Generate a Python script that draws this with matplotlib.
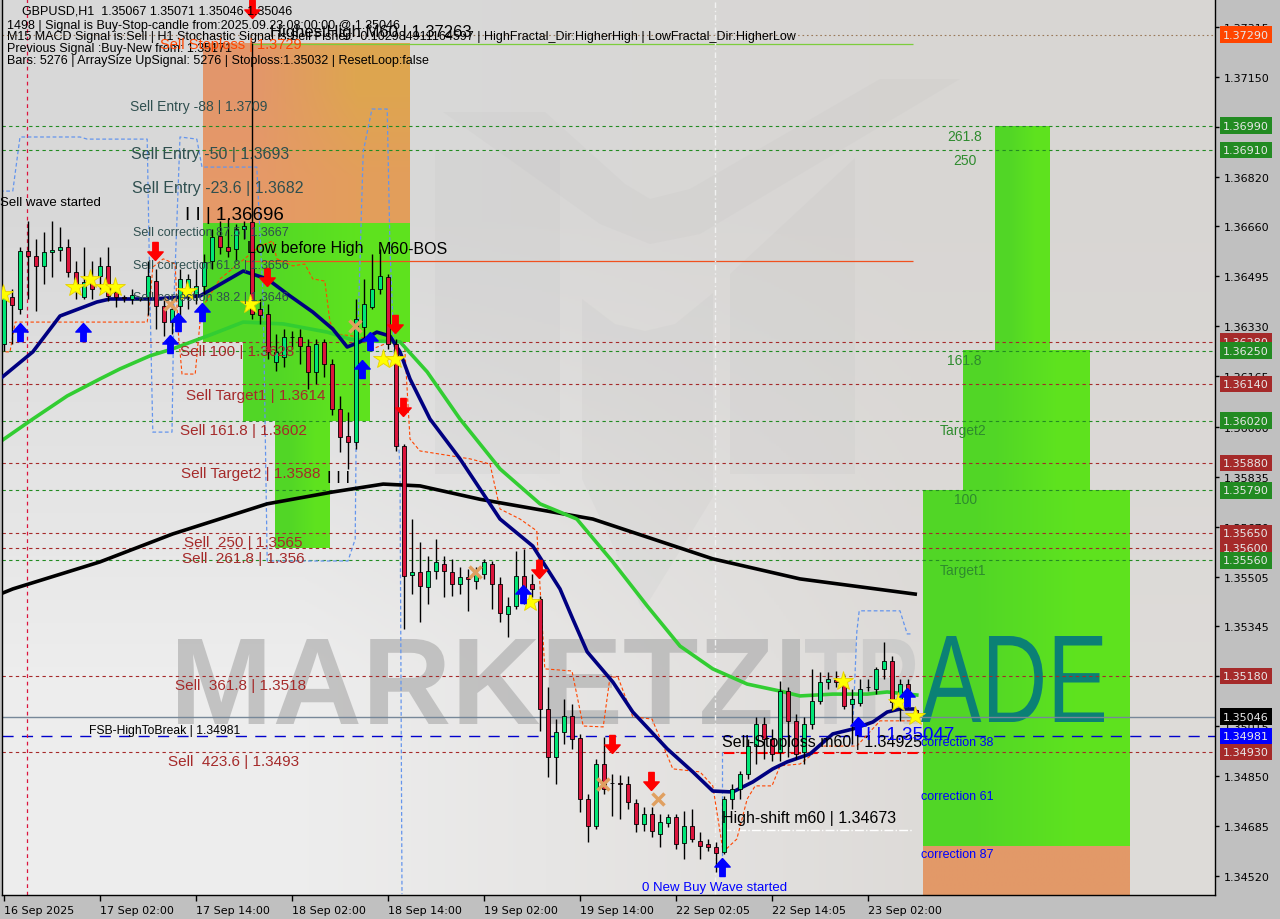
import numpy as np
import matplotlib.pyplot as plt
from matplotlib.patches import PathPatch, Polygon
from matplotlib.textpath import TextPath
from matplotlib.font_manager import FontProperties
from matplotlib.transforms import Affine2D, blended_transform_factory

# --- fonts ---
plt.rcParams['font.family'] = ['Liberation Sans', 'DejaVu Sans']
plt.rcParams['axes.unicode_minus'] = False

# --- GBPUSD H1 candles (index 0 = first bar on the left) ---
opens = [1.36272, 1.36427, 1.36387, 1.36578, 1.36561, 1.36529, 1.36575, 1.36581, 1.36591, 1.36509,
         1.36427, 1.36476, 1.36496, 1.36529, 1.36443, 1.36427, 1.36420, 1.36420, 1.36427, 1.36479,
         1.36397, 1.36344, 1.36397, 1.36436, 1.36436, 1.36463, 1.36545, 1.36627, 1.36591, 1.36585,
         1.36650, 1.36673, 1.36387, 1.36371, 1.36213, 1.36229, 1.36295, 1.36295, 1.36265, 1.36180,
         1.36279, 1.36206, 1.36058, 1.35969, 1.35950, 1.36328, 1.36394, 1.36453, 1.36492, 1.36272,
         1.35936, 1.35512, 1.35522, 1.35472, 1.35525, 1.35548, 1.35522, 1.35482, 1.35505, 1.35492,
         1.35515, 1.35548, 1.35482, 1.35384, 1.35410, 1.35509, 1.35482, 1.35433, 1.35071, 1.34913,
         1.34995, 1.35048, 1.34976, 1.34775, 1.34686, 1.34890, 1.34828, 1.34828, 1.34824, 1.34762,
         1.34693, 1.34726, 1.34660, 1.34696, 1.34716, 1.34630, 1.34686, 1.34637, 1.34627, 1.34617,
         1.34601, 1.34775, 1.34808, 1.34857, 1.34949, 1.35022, 1.34972, 1.34930, 1.35130, 1.35032,
         1.34930, 1.35022, 1.35097, 1.35160, 1.35166, 1.35163, 1.35087, 1.35091, 1.35143, 1.35137,
         1.35203, 1.35229, 1.35094, 1.35153, 1.35067]
highs = [1.36446, 1.36453, 1.36591, 1.36677, 1.36617, 1.36640, 1.36677, 1.36657, 1.36617, 1.36545,
         1.36591, 1.36545, 1.36558, 1.36591, 1.36460, 1.36433, 1.36453, 1.36427, 1.36545, 1.36519,
         1.36427, 1.36420, 1.36519, 1.36502, 1.36519, 1.36568, 1.36650, 1.36677, 1.36683, 1.36667,
         1.36677, 1.37262, 1.36420, 1.36404, 1.36305, 1.36321, 1.36315, 1.36321, 1.36288, 1.36288,
         1.36288, 1.36223, 1.36101, 1.36048, 1.36420, 1.36486, 1.36568, 1.36585, 1.36502, 1.36288,
         1.35943, 1.35696, 1.35621, 1.35575, 1.35630, 1.35575, 1.35565, 1.35538, 1.35532, 1.35538,
         1.35565, 1.35558, 1.35505, 1.35440, 1.35591, 1.35598, 1.35515, 1.35443, 1.35143, 1.35038,
         1.35104, 1.35087, 1.34989, 1.34791, 1.34907, 1.34979, 1.34857, 1.34854, 1.34851, 1.34775,
         1.34749, 1.34749, 1.34726, 1.34726, 1.34726, 1.34736, 1.34742, 1.34666, 1.34643, 1.34634,
         1.34785, 1.34824, 1.34867, 1.34972, 1.35045, 1.35045, 1.35005, 1.35163, 1.35143, 1.35055,
         1.35045, 1.35203, 1.35193, 1.35193, 1.35196, 1.35186, 1.35137, 1.35170, 1.35170, 1.35209,
         1.35292, 1.35245, 1.35170, 1.35170, 1.35071]
lows = [1.36249, 1.36272, 1.36371, 1.36420, 1.36381, 1.36469, 1.36492, 1.36545, 1.36492, 1.36420,
        1.36420, 1.36420, 1.36453, 1.36413, 1.36394, 1.36410, 1.36404, 1.36413, 1.36367, 1.36321,
        1.36298, 1.36305, 1.36321, 1.36387, 1.36404, 1.36436, 1.36519, 1.36568, 1.36558, 1.36545,
        1.36617, 1.36354, 1.36338, 1.36223, 1.36183, 1.36196, 1.36256, 1.36206, 1.36124, 1.36140,
        1.36163, 1.36038, 1.35917, 1.35861, 1.35927, 1.36288, 1.36387, 1.36436, 1.36256, 1.35920,
        1.35334, 1.35449, 1.35357, 1.35417, 1.35499, 1.35440, 1.35443, 1.35449, 1.35394, 1.35466,
        1.35499, 1.35400, 1.35357, 1.35308, 1.35400, 1.35417, 1.35440, 1.34999, 1.34847, 1.34824,
        1.34956, 1.34940, 1.34732, 1.34634, 1.34676, 1.34791, 1.34719, 1.34709, 1.34742, 1.34666,
        1.34670, 1.34650, 1.34617, 1.34683, 1.34611, 1.34578, 1.34634, 1.34578, 1.34604, 1.34535,
        1.34594, 1.34742, 1.34775, 1.34841, 1.34890, 1.34907, 1.34900, 1.34900, 1.34913, 1.34907,
        1.34890, 1.35005, 1.35087, 1.35137, 1.35143, 1.35071, 1.34956, 1.35081, 1.35130, 1.35120,
        1.35170, 1.35065, 1.35032, 1.35078, 1.35046]
closes = [1.36427, 1.36400, 1.36578, 1.36561, 1.36529, 1.36575, 1.36581, 1.36591, 1.36509, 1.36453,
          1.36476, 1.36453, 1.36529, 1.36430, 1.36427, 1.36423, 1.36433, 1.36419, 1.36496, 1.36397,
          1.36344, 1.36387, 1.36486, 1.36486, 1.36463, 1.36542, 1.36624, 1.36591, 1.36578, 1.36650,
          1.36660, 1.36371, 1.36367, 1.36246, 1.36246, 1.36295, 1.36294, 1.36265, 1.36180, 1.36272,
          1.36206, 1.36058, 1.35966, 1.35950, 1.36354, 1.36404, 1.36453, 1.36496, 1.36272, 1.35936,
          1.35509, 1.35522, 1.35476, 1.35525, 1.35555, 1.35525, 1.35482, 1.35505, 1.35499, 1.35515,
          1.35555, 1.35482, 1.35387, 1.35410, 1.35509, 1.35433, 1.35466, 1.35071, 1.34913, 1.34995,
          1.35048, 1.34972, 1.34775, 1.34686, 1.34890, 1.34808, 1.34827, 1.34824, 1.34765, 1.34693,
          1.34726, 1.34670, 1.34699, 1.34716, 1.34627, 1.34686, 1.34643, 1.34620, 1.34617, 1.34597,
          1.34775, 1.34808, 1.34857, 1.34949, 1.35022, 1.34972, 1.34923, 1.35130, 1.35032, 1.34923,
          1.35022, 1.35097, 1.35160, 1.35170, 1.35160, 1.35081, 1.35104, 1.35137, 1.35142, 1.35203,
          1.35229, 1.35094, 1.35153, 1.35114, 1.35046]

# date labels every 12 bars
date_ticks = [0, 12, 24, 36, 48, 60, 72, 84, 96, 108]
date_labels = ['16 Sep 2025', '17 Sep 02:00', '17 Sep 14:00', '18 Sep 02:00', '18 Sep 14:00',
               '19 Sep 02:00', '19 Sep 14:00', '22 Sep 02:05', '22 Sep 14:05', '23 Sep 02:00']
price_ticks = [1.37315, 1.37150, 1.36985, 1.36820, 1.36660, 1.36495, 1.36330, 1.36165, 1.36000,
               1.35835, 1.35670, 1.35505, 1.35345, 1.35180, 1.35015, 1.34850, 1.34685, 1.34520]

# --- moving averages (bar index, price) ---
ma_navy_x = [-0.5, 3.6, 7, 11.6, 13.25, 18.6, 24.5, 29.9, 32.9, 35.75, 38.6, 41.1, 42.9, 44.5, 46.6,
             48.25, 49.5, 50.75, 53.25, 57, 62, 66.1, 69.5, 71.1, 72.9, 76.1, 78.6, 82.9, 86.1, 88.6,
             91.1, 93.6, 96.1, 97.9, 100.75, 103.6, 106.1, 108.6, 110.4, 112, 113.6]
ma_navy_y = [1.36157, 1.36246, 1.36364, 1.36410, 1.36420, 1.36420, 1.36430, 1.36512, 1.36486, 1.36430,
             1.36377, 1.36321, 1.36262, 1.36279, 1.36311, 1.36298, 1.36246, 1.36157, 1.36025, 1.35894,
             1.35696, 1.35607, 1.35466, 1.35367, 1.35259, 1.35160, 1.35061, 1.34940, 1.34864, 1.34801,
             1.34798, 1.34831, 1.34874, 1.34897, 1.34923, 1.34989, 1.35005, 1.35028, 1.35061, 1.35071,
             1.35071]
ma_green_x = [-0.5, 3.6, 7.9, 12, 14.5, 18.25, 21.1, 26.1, 29.9, 34.9, 40.4, 43.25, 45.75, 49.5, 52.9,
              57, 62, 67, 71.6, 76.1, 80.4, 84.5, 88.6, 92.9, 97, 99.5, 103.6, 107.9, 110.4, 114.1]
ma_green_y = [1.35950, 1.36025, 1.36101, 1.36157, 1.36190, 1.36233, 1.36256, 1.36305, 1.36344, 1.36338,
              1.36311, 1.36288, 1.36282, 1.36279, 1.36180, 1.36025, 1.35861, 1.35746, 1.35696, 1.35555,
              1.35410, 1.35278, 1.35203, 1.35153, 1.35130, 1.35114, 1.35120, 1.35120, 1.35127, 1.35117]
ma_black_x = [-0.5, 1.1, 12, 21.1, 32.9, 41.1, 47.4, 52, 59.5, 73.6, 88.6, 99.5, 113.9]
ma_black_y = [1.35449, 1.35466, 1.35555, 1.35647, 1.35746, 1.35785, 1.35811, 1.35805, 1.35761,
              1.35696, 1.35565, 1.35499, 1.35449]

# --- trailing stop (thin orange dashed) ---
trail_x = [-0.5, 0.75, 1.4, 17.9, 18.25, 18.6, 19.9, 21.4, 21.75, 22.25, 23.9, 24.5, 24.9, 27, 32,
           33.6, 34.1, 36.1, 37.6, 38.6, 40.1, 40.75, 41.6, 43.6, 45.75, 46.1, 47.6, 49.5, 50.1,
           50.75, 52, 58.25, 60.75, 62, 64.5, 66.6, 67.6, 71, 72.4, 74.9, 75.75, 76.75, 78.6, 81,
           83.6, 87, 88.6, 89.9, 91.6, 92.9, 93.9, 96, 97, 99.5, 101.1, 101.6, 106.6, 109.5, 113.6]
trail_y = [1.36246, 1.36246, 1.36344, 1.36344, 1.36413, 1.36525, 1.36552, 1.36535, 1.36321, 1.36173,
           1.36173, 1.36344, 1.36397, 1.36486, 1.36594, 1.36611, 1.36552, 1.36529, 1.36535, 1.36486,
           1.36479, 1.36344, 1.36305, 1.36298, 1.36288, 1.36256, 1.36272, 1.36279, 1.36256, 1.35959,
           1.35920, 1.35894, 1.35877, 1.35729, 1.35696, 1.35657, 1.35203, 1.35196, 1.35015, 1.35012,
           1.35176, 1.35176, 1.35045, 1.35038, 1.34874, 1.34864, 1.34818, 1.34601, 1.34643, 1.34775,
           1.34818, 1.34818, 1.34884, 1.34890, 1.34923, 1.34949, 1.34949, 1.35032, 1.35032]

# --- envelope (thin blue dashed) ---
env1_x = [-0.5, 1.1, 2, 9.5, 10.4, 17.9, 18.25, 18.6, 21, 21.25, 22, 24.1, 24.75, 31.6, 32.4, 32.9,
          43, 43.9, 44.1, 44.9, 46, 47.9, 48.25, 48.9, 49.5, 49.75]
env1_y = [1.36775, 1.36775, 1.36953, 1.36953, 1.36946, 1.36946, 1.36420, 1.35982, 1.35982, 1.36420,
          1.36953, 1.36946, 1.36854, 1.36854, 1.36420, 1.35558, 1.35558, 1.35630, 1.36190, 1.36904,
          1.37045, 1.37045, 1.36585, 1.36157, 1.35861, 1.34462]
env2_x = [106, 106.6, 106.9, 112, 112.9, 113.6]
env2_y = [1.34949, 1.35324, 1.35394, 1.35394, 1.35318, 1.35318]
env3_x = [89.75, 89.75]
env3_y = [1.34930, 1.34522]

# --- signal markers ---
star_x = [-0.1, 8.9, 10.75, 12.6, 13.9, 22.9, 30.75, 47.4, 48.9, 65.75, 104.9, 111.75, 113.9]
star_y = [1.36436, 1.36460, 1.36486, 1.36460, 1.36460, 1.36446, 1.36404, 1.36223, 1.36223, 1.35423,
          1.35163, 1.35094, 1.35048]
buy_x = [2, 9.9, 20.75, 21.75, 24.75, 44.75, 45.75, 64.9, 89.75, 106.75, 112.9]
buy_y = [1.36311, 1.36311, 1.36272, 1.36344, 1.36377, 1.36190, 1.36282, 1.35449, 1.34551, 1.35015,
         1.35111]
sell_x = [31, 18.9, 32.9, 48.9, 49.9, 66.9, 76, 80.9]
sell_y = [1.37374, 1.36578, 1.36492, 1.36338, 1.36065, 1.35532, 1.34956, 1.34834]
cross_x = [20.75, 43.9, 58.9, 74.9, 81.75]
cross_y = [1.36404, 1.36331, 1.35522, 1.34824, 1.34775]

# --- zones (left bar, right bar, top price, bottom price) ---
zone_left = [24.9, 24.9, 29.9, 33.9, 114.9, 119.9, 123.9, 114.9]
zone_right = [50.75, 50.75, 45.75, 40.75, 140.75, 135.75, 130.75, 140.75]
zone_top = [1.37259, 1.3667, 1.3628, 1.3602, 1.3579, 1.3625, 1.3699, 1.3462]
zone_bottom = [1.3667, 1.3628, 1.3602, 1.3560, 1.3462, 1.3579, 1.3625, 1.34459]
zone_kind = ['entry', 'tp', 'tp', 'tp', 'tp', 'tp', 'tp', 'stop']

# --- horizontal levels ---
red_levels = [1.3628, 1.3614, 1.3588, 1.3565, 1.3560, 1.3518, 1.3493]
green_levels = [1.3699, 1.3691, 1.3625, 1.3602, 1.3579, 1.3556]
stop_level = 1.3729
bid_level = 1.35046
fsb_level = 1.34981
low_before_high = 1.36545
highest_high = 1.37259
sl_m60 = 1.34925
high_shift_m60 = 1.34673

# right-hand price boxes
box_prices = [1.37290, 1.36990, 1.36910, 1.36280, 1.36250, 1.36140, 1.36020, 1.35880, 1.35790,
              1.35650, 1.35600, 1.35560, 1.35180, 1.35046, 1.34981, 1.34930]
box_colors = ['#ff4500', '#228b22', '#228b22', '#a52a2a', '#228b22', '#a52a2a', '#228b22', '#a52a2a',
              '#228b22', '#a52a2a', '#a52a2a', '#228b22', '#a52a2a', '#000000', '#0000ff', '#a52a2a']

W, H = 1280, 920
AX_L, AX_R, AX_B = 2, 1215, 896   # pixel frame of the price pane

# faint background logo, in screen pixels (decoration only)
logo_shapes = [
    [(435, 153), (560, 153), (560, 475), (435, 475)],
    [(730, 275), (855, 159), (855, 475), (730, 475)],
    [(582, 300), (615, 325), (645, 332), (675, 325), (713, 294), (713, 498), (643, 612), (582, 480)],
    [(443, 113), (545, 113), (625, 185), (650, 200), (690, 190), (880, 80), (960, 80),
     (700, 235), (650, 245), (600, 225)],
]


def at(x, y):
    # pixel position -> axes fraction (used for text layout only)
    return (x - AX_L) / (AX_R - AX_L), 1 - y / AX_B


def stretched_word(ax, s, x0, x1, base, cap, bold, color, alpha, z):
    # watermark word squeezed into a pixel box (x0..x1, cap height above baseline)
    fp = FontProperties(family='Liberation Sans', weight='bold' if bold else 'normal')
    tp = TextPath((0, 0), s, size=100, prop=fp)
    bb = tp.get_extents()
    tr = (Affine2D().translate(-bb.x0, 0)
          .scale((x1 - x0) / bb.width, cap / bb.y1)
          .translate(x0, H - base))
    ax.add_patch(PathPatch(tp, transform=tr, facecolor=color, edgecolor='none',
                           alpha=alpha, zorder=z))


def draw_chart():
    fig = plt.figure(figsize=(W / 100, H / 100), dpi=100, facecolor='#c0c0c0')
    ax = fig.add_axes([AX_L / W, 1 - AX_B / H, (AX_R - AX_L) / W, AX_B / H])

    xmin, xmax = -0.25, 151.375
    ymin, ymax = 1.34459, 1.37407

    # --- background gradient ---
    grad = np.array([[[0.85, 0.85, 0.85], [0.85, 0.84, 0.83]],
                     [[0.93, 0.93, 0.93], [0.87, 0.86, 0.85]]])
    ax.imshow(grad, extent=[xmin, xmax, ymin, ymax], aspect='auto', origin='upper',
              interpolation='bilinear', zorder=0)

    # faint logo
    screen = Affine2D().scale(1, -1).translate(0, H)
    for pts in logo_shapes:
        ax.add_patch(Polygon(pts, closed=True, transform=screen, facecolor='#bdbdbd',
                             edgecolor='none', alpha=0.14, zorder=0.5))

    # --- zones (soft gradients like the terminal objects) ---
    for l, r, t, b, k in zip(zone_left, zone_right, zone_top, zone_bottom, zone_kind):
        if k == 'entry':
            g = np.array([[[0.89, 0.59, 0.42], [0.87, 0.65, 0.31]],
                          [[0.90, 0.60, 0.41], [0.89, 0.62, 0.36]]])
        elif k == 'stop':
            g = np.array([[[0.89, 0.60, 0.41], [0.89, 0.60, 0.41]],
                          [[0.89, 0.60, 0.41], [0.89, 0.60, 0.41]]])
        else:
            g = np.array([[[0.32, 0.84, 0.15], [0.37, 0.89, 0.12]],
                          [[0.32, 0.84, 0.15], [0.37, 0.89, 0.12]]])
        ax.imshow(g, extent=[l, r, b, t], aspect='auto', origin='upper',
                  interpolation='bilinear', zorder=1)

    # --- watermark ---
    stretched_word(ax, 'MARKETZI', 178, 800, 725, 85, True, '#b2b2b2', 0.72, 1.5)
    stretched_word(ax, 'TR', 805, 918, 725, 85, True, '#c6c6c6', 0.7, 1.5)
    stretched_word(ax, 'ADE', 921, 1104, 723, 86, False, '#0b8075', 1.0, 1.6)

    # --- level lines ---
    for p in red_levels:
        ax.axhline(p, color='#a52a2a', lw=0.8, dashes=(3, 3), zorder=2)
    for p in green_levels:
        ax.axhline(p, color='#228b22', lw=0.8, dashes=(3, 3), zorder=2)
    ax.axhline(stop_level, color='#9a7a5a', lw=0.8, dashes=(1.5, 2.5), zorder=2)
    ax.axhline(bid_level, color='#778899', lw=1, zorder=2)
    ax.axhline(fsb_level, color='#0000cc', lw=1, dashes=(8, 6), zorder=2)
    ax.hlines(low_before_high, 30.1, 113.6, color='#f0501e', lw=0.9, zorder=2)
    ax.hlines(highest_high, 30.9, 113.6, color='#7ccd3c', lw=0.9, zorder=2)
    ax.hlines(sl_m60, 90, 115.1, color='#ff0000', lw=1.5, linestyles=(0, (5, 3)), zorder=2)
    ax.hlines(high_shift_m60, 89.75, 113.6, color='white', lw=1, linestyles='-.', zorder=2)
    ax.axvline(2.875, color='#dc143c', lw=0.9, dashes=(3, 3), zorder=2)
    ax.axvline(88.9, color='#f2f2f2', lw=1, dashes=(4, 2, 1, 2), zorder=2)

    # --- indicator lines ---
    ax.plot(env1_x, env1_y, color='#6495ed', lw=0.9, dashes=(3, 2), zorder=2.2)
    ax.plot(env2_x, env2_y, color='#6495ed', lw=0.9, dashes=(3, 2), zorder=2.2)
    ax.plot(env3_x, env3_y, color='#6495ed', lw=0.9, dashes=(3, 2), zorder=2.2)
    ax.plot(trail_x, trail_y, color='#ff4500', lw=0.8, dashes=(3, 2), zorder=2.3)
    ax.plot(ma_black_x, ma_black_y, color='black', lw=2.6, zorder=2.5)
    ax.plot(ma_green_x, ma_green_y, color='#32cd32', lw=2.6, zorder=2.5)
    ax.plot(ma_navy_x, ma_navy_y, color='#000080', lw=2.6, zorder=2.6)

    # --- candles ---
    idx = np.arange(len(opens))
    o, h, l, c = (np.array(v) for v in (opens, highs, lows, closes))
    up = c >= o
    ax.vlines(idx, l, h, color='black', lw=1, zorder=3)
    body_lo = np.minimum(o, c)
    body_h = np.maximum(np.abs(c - o), 0.00002)
    ax.bar(idx, body_h, bottom=body_lo, width=0.62,
           color=np.where(up, '#00e676', '#dc143c'), edgecolor='black', lw=0.6, zorder=3.1)

    # --- markers ---
    up_arrow = [(0, 1), (-0.85, 0.05), (-0.3, 0.05), (-0.3, -1), (0.3, -1), (0.3, 0.05),
                (0.85, 0.05), (0, 1)]
    dn_arrow = [(x, -y) for x, y in up_arrow]
    ax.plot(star_x, star_y, ls='none', marker='*', ms=15, color='#ffff00', mec='#e8d000',
            mew=0.6, zorder=4)
    ax.plot(buy_x, buy_y, ls='none', marker=up_arrow, ms=13, color='#0000ff', mec='#0000ff',
            zorder=4)
    ax.plot(sell_x, sell_y, ls='none', marker=dn_arrow, ms=13, color='#ff0000', mec='#ff0000',
            zorder=4)
    ax.plot(cross_x, cross_y, ls='none', marker='x', ms=8, mew=2.5, color='#e0a060', zorder=4)

    # --- texts ---
    dark = '#2f4f4f'
    brown = '#a52a2a'
    tgreen = '#2e8b2e'
    labels = [
        ('GBPUSD,H1  1.35067 1.35071 1.35046 1.35046', 22, 12, 9, 'black'),
        ('1498 | Signal is Buy-Stop-candle from:2025.09.23.08:00:00 @ 1.35046', 7, 26, 9, 'black'),
        ('M15 MACD Signal is:Sell | H1 Stochastic Signal is:Sell Fisher: -0.102984911164597 | '
         'HighFractal_Dir:HigherHigh | LowFractal_Dir:HigherLow', 7, 37, 9, 'black'),
        ('Previous Signal :Buy-New from: 1.35171', 7, 49, 9, 'black'),
        ('Bars: 5276 | ArraySize UpSignal: 5276 | Stoploss:1.35032 | ResetLoop:false', 7, 61, 9, 'black'),
        ('HighestHigh M60 | 1.37263', 270, 33, 12, 'black'),
        ('Sell Stoploss | 1.3729', 160, 45, 10.5, '#ff4500'),
        ('Sell Entry -88 | 1.3709', 130, 107, 10, dark),
        ('Sell Entry -50 | 1.3693', 131, 155, 11.5, dark),
        ('Sell Entry -23.6 | 1.3682', 132, 188, 11.5, dark),
        ('Sell wave started', 0, 203, 9.5, 'black'),
        ('I I | 1.36696', 185, 215, 13.5, 'black'),
        ('Sell correction 87.5 | 1.3667', 133, 233, 9, dark),
        ('Low before High', 247, 249, 11.5, 'black'),
        ('M60-BOS', 378, 249, 11.5, 'black'),
        ('Sell correction 61.8 | 1.3656', 133, 266, 9, dark),
        ('Sell correction 38.2 | 1.3646', 133, 298, 9, dark),
        ('Sell 100 | 1.3628', 180, 352, 11, brown),
        ('Sell Target1 | 1.3614', 186, 396, 11, brown),
        ('Sell 161.8 | 1.3602', 180, 431, 11, brown),
        ('Sell Target2 | 1.3588', 181, 474, 11, brown),
        ('I I I', 327, 478, 12, 'black'),
        ('Sell  250 | 1.3565', 184, 543, 11, brown),
        ('Sell  261.8 | 1.356', 182, 559, 11, brown),
        ('Sell  361.8 | 1.3518', 175, 686, 11, brown),
        ('FSB-HighToBreak | 1.34981', 89, 731, 8.7, 'black'),
        ('Sell  423.6 | 1.3493', 168, 762, 11, brown),
        ('Sell-Stoploss m60 | 1.34925', 722, 743, 11.5, 'black'),
        ('I | 1.35047', 866, 735, 13.5, '#0000ff'),
        ('correction 38', 921, 743, 9, '#0000ff'),
        ('correction 61', 921, 797, 9, '#0000ff'),
        ('correction 87', 921, 855, 9, '#0000ff'),
        ('High-shift m60 | 1.34673', 722, 819, 11.5, 'black'),
        ('0 New Buy Wave started', 642, 888, 9.5, '#0000ff'),
        ('261.8', 947, 137, 10, tgreen),
        ('250', 953, 161, 10, tgreen),
        ('161.8', 947, 361, 10, tgreen),
        ('Target2', 940, 431, 10, tgreen),
        ('100', 954, 500, 10, tgreen),
        ('Target1', 940, 571, 10, tgreen),
    ]
    for s, x, y, fs, col in labels:
        ax.text(*at(x, y), s, transform=ax.transAxes, fontsize=fs, color=col,
                ha='left', va='center', zorder=5, clip_on=False)

    # --- axes ---
    ax.set_xlim(xmin, xmax)
    ax.set_ylim(ymin, ymax)
    ax.set_facecolor('#dcdcdc')
    ax.spines['top'].set_visible(False)
    for sp in ('left', 'right', 'bottom'):
        ax.spines[sp].set_color('black')
        ax.spines[sp].set_linewidth(1)

    ax.set_xticks(date_ticks)
    ax.set_xticklabels(date_labels, ha='left', fontsize=8, family='DejaVu Sans')
    ax.tick_params(axis='x', length=4, width=1, direction='out', pad=3)

    ax.yaxis.tick_right()
    ax.set_yticks(price_ticks)
    ax.set_yticklabels([f'{p:.5f}' for p in price_ticks], fontsize=8, family='DejaVu Sans')
    ax.tick_params(axis='y', length=3, width=1, direction='out', pad=3)

    # colored price boxes on the right scale
    trans = blended_transform_factory(ax.transAxes, ax.transData)
    for p, col in zip(box_prices, box_colors):
        ax.text(1.0065, p, f'{p:.5f}', transform=trans, fontsize=8, family='DejaVu Sans',
                color='#e8e8e8', ha='left', va='center', clip_on=False, zorder=6,
                bbox=dict(boxstyle='square,pad=0.3', facecolor=col, edgecolor='none'))

    fig.savefig('out.png', dpi=100, facecolor=fig.get_facecolor())


if __name__ == '__main__':
    draw_chart()
